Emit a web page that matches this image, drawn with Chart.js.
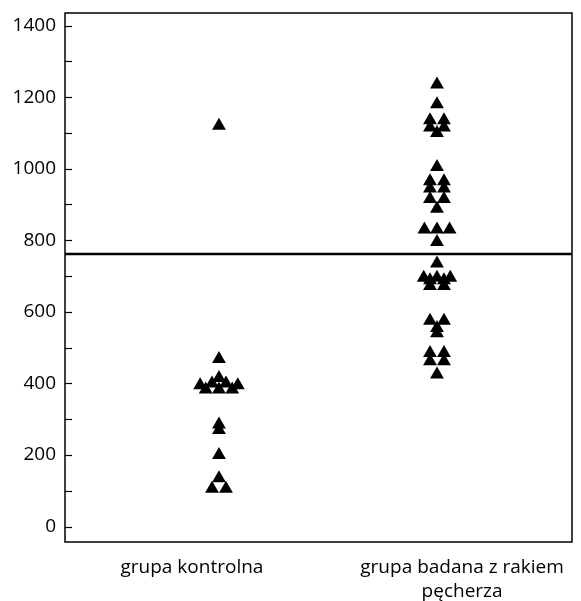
<!DOCTYPE html>
<html><head><meta charset="utf-8">
<script src="https://cdn.jsdelivr.net/npm/chart.js@4"></script>
<style>html,body{margin:0;padding:0;background:#fff}</style>
</head><body>
<canvas id="c" width="581" height="601"></canvas>
<script>
// ---- data ----
const categories = [['grupa kontrolna'], ['grupa badana z rakiem', 'pęcherza']];
const groupPositions = [1, 2];            // x centre of each group
const labelPositions = [0.876, 2.115];    // where the category labels sit
const controlValues = [1120, 468, 415, 400, 400, 395, 395, 383, 383, 383, 285, 270, 200, 135, 106, 106];
const controlJitter = [0, 0, 0, -1, 1, -2.7, 2.7, -1.9, 0, 1.9, 0, 0, 0, 0, -1, 1];
const cancerValues = [1235, 1180, 1135, 1135, 1115, 1115, 1100,
  1005, 965, 965, 945, 945, 915, 915, 888,
  830, 830, 830, 795, 735,
  695, 695, 695, 688, 688, 672, 672,
  575, 575, 555, 540, 485, 485, 462, 462, 425];
const cancerJitter = [0, 0, -1, 1, -1, 1, 0,
  0, -1, 1, -1, 1, -1, 1, 0,
  -1.8, 0, 1.8, 0, 0,
  -1.9, 0, 1.9, -1, 1, -1, 1,
  -1, 1, 0, 0, -1, 1, -1, 1, 0];
const cutoffValue = 762;
const yTickValues = [0, 100, 200, 300, 400, 500, 600, 700, 800, 900, 1000, 1100, 1200, 1300, 1400];
const yMin = -43, yMax = 1435;
const xMin = 0.2937, xMax = 2.6193;
const jitterUnit = 0.032;

const FONT = {family: '"Open Sans", "Noto Sans", sans-serif', size: 19, lineHeight: 1.28};

function pts(values, jitter, gx) {
  return values.map((v, i) => ({x: gx + jitter[i] * jitterUnit, y: v}));
}

const framePlugin = {
  id: 'frame',
  afterDraw(chart) {
    const {ctx, chartArea: a, scales: {y}} = chart;
    ctx.save();
    ctx.strokeStyle = '#000';
    ctx.lineWidth = 1.5;
    ctx.strokeRect(a.left, a.top, a.right - a.left, a.bottom - a.top);
    ctx.lineWidth = 1.2;
    y.ticks.forEach(t => {
      const py = Math.round(y.getPixelForValue(t.value)) + 0.5;
      ctx.beginPath();
      ctx.moveTo(a.left, py);
      ctx.lineTo(a.left + 7, py);
      ctx.stroke();
    });
    ctx.restore();
  }
};

new Chart(document.getElementById('c'), {
  type: 'scatter',
  data: {
    datasets: [
      {data: pts(controlValues, controlJitter, groupPositions[0]), pointStyle: 'triangle', pointRadius: 8, pointHoverRadius: 8, backgroundColor: '#000', borderWidth: 0},
      {data: pts(cancerValues, cancerJitter, groupPositions[1]), pointStyle: 'triangle', pointRadius: 8, pointHoverRadius: 8, backgroundColor: '#000', borderWidth: 0},
      {data: [{x: xMin, y: cutoffValue}, {x: xMax, y: cutoffValue}], showLine: true, pointRadius: 0, borderColor: '#000', borderWidth: 2.5}
    ]
  },
  options: {
    responsive: false,
    animation: false,
    layout: {padding: {left: 0, top: 13, right: 9, bottom: 0}},
    plugins: {legend: {display: false}, tooltip: {enabled: false}},
    scales: {
      x: {
        type: 'linear', min: xMin, max: xMax,
        afterBuildTicks: s => { s.ticks = labelPositions.map(v => ({value: v})); },
        afterFit: s => { s.height = 59; s.paddingLeft = 0; s.paddingRight = 0; },
        grid: {display: false, drawTicks: false},
        border: {display: false},
        ticks: {
          color: '#000', font: FONT, padding: 13, maxRotation: 0, autoSkip: false,
          callback: (v, i) => categories[i]
        }
      },
      y: {
        type: 'linear', min: yMin, max: yMax,
        afterBuildTicks: s => { s.ticks = yTickValues.map(v => ({value: v})); },
        afterFit: s => { s.width = 65; s.paddingTop = 0; s.paddingBottom = 0; },
        grid: {display: false, drawTicks: false},
        border: {display: false},
        ticks: {
          color: '#000', font: FONT, padding: 9, autoSkip: false,
          callback: v => (v % 200 === 0 ? String(v) : '')
        }
      }
    }
  },
  plugins: [framePlugin]
});
</script>
</body></html>
